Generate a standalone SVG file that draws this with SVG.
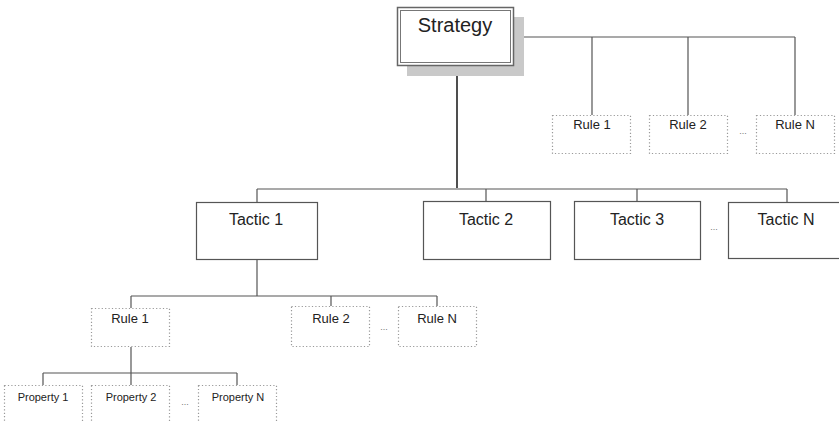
<svg xmlns="http://www.w3.org/2000/svg" width="839" height="423" viewBox="0 0 839 423">
<style>
text{font-family:"Liberation Sans",Arial,sans-serif;fill:#222;text-anchor:middle}
.box{fill:#fff;stroke:#555;stroke-width:1.2}
.dot{fill:#fff;stroke:#999;stroke-width:1.2;stroke-dasharray:1.2 2.2}
.ln{fill:none;stroke:#555;stroke-width:1.2}
.main{fill:none;stroke:#222;stroke-width:1.6}
.t20{font-size:20px}.t16{font-size:16px}.t13{font-size:13px}.t11{font-size:11px}
.ell{font-size:9px;fill:#777}
</style>
<rect width="839" height="423" fill="#fff"/>
<g id="connectors">
<path class="main" d="M457 66V188"/>
<path class="ln" d="M514 37H795M592 37V115M688 37V115M795 37V115"/>
<path class="ln" d="M257 189H787M257 189V202M486 189V201M637 189V201M787 189V202"/>
<path class="ln" d="M257 259V296M131 296H437M131 296V308M331 296V306M437 296V306"/>
<path class="ln" d="M131 347V373M43 373H237M43 373V385M131 373V385M237 373V385"/>
</g>
<g id="strategy">
<rect x="407" y="17" width="117" height="59" fill="#c9c9c9"/>
<rect x="397.5" y="7.5" width="116" height="58" fill="#fff" stroke="#666" stroke-width="1.5"/>
<rect x="400.5" y="10.5" width="110" height="52" fill="none" stroke="#777" stroke-width="1"/>
<text class="t20" x="455" y="32">Strategy</text>
</g>
<g id="srule1"><rect class="dot" x="552.5" y="115.5" width="78" height="38"/><text class="t13" x="592" y="129">Rule 1</text></g>
<g id="srule2"><rect class="dot" x="649.5" y="115.5" width="78" height="38"/><text class="t13" x="688" y="129">Rule 2</text></g>
<text class="ell" x="743" y="134">...</text>
<g id="sruleN"><rect class="dot" x="756.5" y="115.5" width="78" height="38"/><text class="t13" x="795" y="129">Rule N</text></g>
<g id="tactic1"><rect class="box" x="196.5" y="202.5" width="121" height="57"/><text class="t16" x="256" y="225">Tactic 1</text></g>
<g id="tactic2"><rect class="box" x="423.5" y="201.5" width="127" height="58"/><text class="t16" x="486" y="225">Tactic 2</text></g>
<g id="tactic3"><rect class="box" x="574.5" y="201.5" width="126" height="58"/><text class="t16" x="637" y="225">Tactic 3</text></g>
<text class="ell" x="714" y="230">...</text>
<g id="tacticN"><rect class="box" x="728.5" y="202.5" width="116" height="56"/><text class="t16" x="786" y="225">Tactic N</text></g>
<g id="rule1"><rect class="dot" x="91.5" y="308.5" width="78" height="38"/><text class="t13" x="130" y="323">Rule 1</text></g>
<g id="rule2"><rect class="dot" x="291.5" y="306.5" width="78" height="40"/><text class="t13" x="331" y="323">Rule 2</text></g>
<text class="ell" x="384" y="330">...</text>
<g id="ruleN"><rect class="dot" x="398.5" y="306.5" width="78" height="40"/><text class="t13" x="437" y="323">Rule N</text></g>
<g id="prop1"><rect class="dot" x="4.5" y="385.5" width="78" height="45"/><text class="t11" x="43" y="401">Property 1</text></g>
<g id="prop2"><rect class="dot" x="91.5" y="385.5" width="78" height="45"/><text class="t11" x="131" y="401">Property 2</text></g>
<text class="ell" x="185" y="405">...</text>
<g id="propN"><rect class="dot" x="198.5" y="385.5" width="78" height="45"/><text class="t11" x="238" y="401">Property N</text></g>
</svg>
